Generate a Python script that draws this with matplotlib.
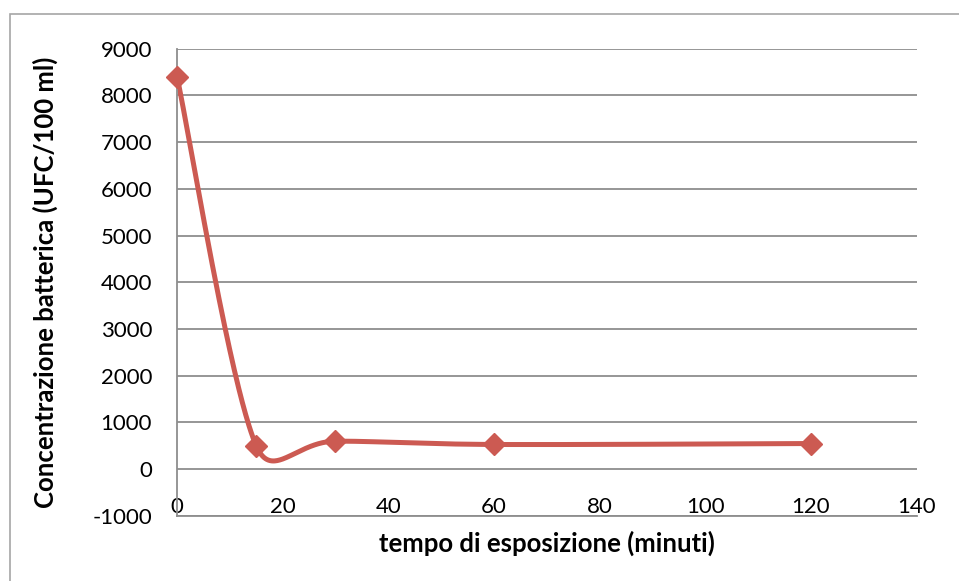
import matplotlib
matplotlib.use("Agg")
import matplotlib.pyplot as plt
from matplotlib.patches import Rectangle
import numpy as np

# esposizione (minuti) e concentrazione (UFC/100 ml)
minuti = [0, 15, 30, 60, 120]
ufc = [8400, 500, 600, 530, 550]

x_ticks = [0, 20, 40, 60, 80, 100, 120, 140]
y_ticks = [-1000, 0, 1000, 2000, 3000, 4000, 5000, 6000, 7000, 8000, 9000]

red = "#CC5A52"
grey = "#8E8E8E"


def smooth_line(ax, xs, ys, n=80):
    # bezier smoothing in screen space; control arms are catmull-rom (1/6)
    # but never longer than half of the segment
    pts = ax.transData.transform(np.column_stack([xs, ys]))
    out = [pts[0]]
    for i in range(len(pts) - 1):
        p0 = pts[i - 1] if i > 0 else pts[i]
        p1 = pts[i]
        p2 = pts[i + 1]
        p3 = pts[i + 2] if i + 2 < len(pts) else pts[i + 1]
        seg = np.linalg.norm(p2 - p1)
        a1 = (p2 - p0) / 6
        a2 = (p3 - p1) / 6
        if np.linalg.norm(a1) > seg / 2:
            a1 = a1 / np.linalg.norm(a1) * seg / 2
        if np.linalg.norm(a2) > seg / 2:
            a2 = a2 / np.linalg.norm(a2) * seg / 2
        c1 = p1 + a1
        c2 = p2 - a2
        t = np.linspace(0, 1, n)[1:, None]
        b = ((1 - t) ** 3) * p1 + 3 * ((1 - t) ** 2) * t * c1 + 3 * (1 - t) * t ** 2 * c2 + t ** 3 * p2
        out.extend(b)
    out = ax.transData.inverted().transform(np.array(out))
    return out[:, 0], out[:, 1]


def main():
    plt.rcParams["font.family"] = ["Lato", "DejaVu Sans"]
    plt.rcParams["axes.unicode_minus"] = False
    fig = plt.figure(figsize=(9.59, 5.81), dpi=100)
    ax = fig.add_axes([0.1846, 0.1119, 0.9557 - 0.1846, 0.9165 - 0.1119])

    # chart area border (top and left edges visible)
    fig.patches.append(Rectangle((10 / 959, -0.1), 1.2, 1 - 14 / 581 + 0.1,
                                 transform=fig.transFigure, fill=False,
                                 edgecolor="#A6A6A6", linewidth=1.2))

    ax.set_xlim(0, 140)
    ax.set_ylim(-1000, 9000)
    ax.set_xticks(x_ticks)
    ax.set_yticks(y_ticks)
    ax.yaxis.grid(True, color=grey, linewidth=1.3)
    ax.set_axisbelow(True)
    for s in ["top", "right"]:
        ax.spines[s].set_visible(False)
    for s in ["left", "bottom"]:
        ax.spines[s].set_color(grey)
        ax.spines[s].set_linewidth(1.3)
    ax.tick_params(axis="both", length=0, labelsize=16, colors="black")
    ax.tick_params(axis="y", pad=18)
    ax.tick_params(axis="x", pad=-13.7)

    sx, sy = smooth_line(ax, minuti, ufc)
    ax.plot(sx, sy, color=red, linewidth=3.6, solid_capstyle="round", clip_on=False)
    ax.plot(minuti, ufc, linestyle="none", marker="D", markersize=11,
            color=red, clip_on=False, zorder=5)

    ax.set_xlabel("tempo di esposizione (minuti)", fontsize=18.5, fontweight="bold")
    ax.set_ylabel("Concentrazione batterica (UFC/100 ml)", fontsize=18.5, fontweight="bold")
    ax.xaxis.set_label_coords(0.5, -0.031)
    ax.yaxis.set_label_coords(-0.161, 0.5)

    fig.savefig("out.png", dpi=100)


if __name__ == "__main__":
    main()
